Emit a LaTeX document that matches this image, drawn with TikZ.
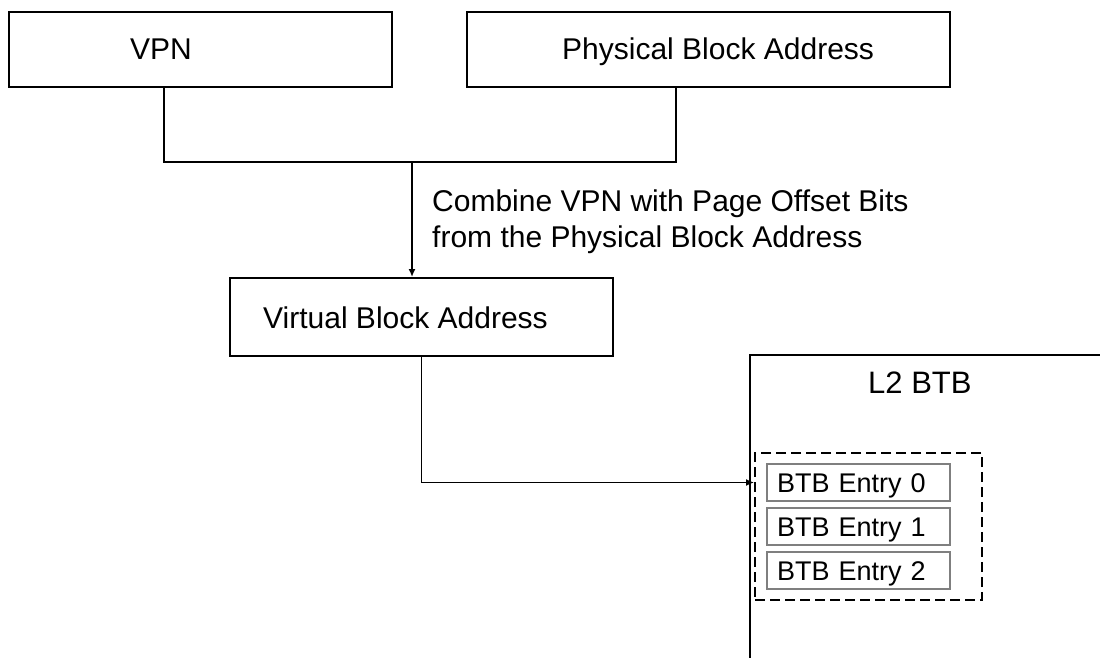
\documentclass[tikz,border=0pt]{standalone}
\usepackage{fontspec}
\setmainfont{Liberation Sans}
\usepackage{tikz}
\usetikzlibrary{arrows.meta}
\definecolor{entryc}{HTML}{7F7F7F}
\tikzset{
  blk/.style={draw=black, line width=2pt, inner sep=0pt},
  lbl/.style={font=\fontsize{30}{36}\selectfont, inner sep=0pt, anchor=base west},
  entry/.style={draw=entryc, line width=1.8pt, minimum width=183pt, minimum height=37pt,
    text width=163pt, align=left, inner xsep=10pt, inner ysep=0pt,
    text height=19pt, text depth=0pt, font=\fontsize{27}{30}\selectfont},
  grp/.style={draw=black, line width=1.8pt, dash pattern=on 10pt off 5pt},
  wire/.style={line width=1.8pt},
  flow/.style={wire, -{Latex[length=8pt,width=7pt]}},
}

\begin{document}
\begin{tikzpicture}[x=1pt,y=-1pt]
\useasboundingbox (0,0) rectangle (1100,658);
\clip (0,0) rectangle (1100,658);
% address boxes
\node[blk, minimum width=383pt, minimum height=75pt] (vpn) at (200.5,49.5) {};
\node[blk, minimum width=483pt, minimum height=75pt] (pba) at (708.5,49.5) {};
\node[blk, minimum width=383pt, minimum height=78pt] (vba) at (421.5,317) {};
\node[lbl] (vpntxt) at (130,60) {VPN};
\node[lbl] (pbatxt) at (562,60) {Physical Block Address};
\node[lbl] (vbatxt) at (263,328) {Virtual Block Address};
% combine step
\path (vpn.south west) ++(156,0) coordinate (vpnout);
\path (pba.south west) ++(210,0) coordinate (pbaout);
\coordinate (merge) at (412,162);
\draw[wire] (vpnout) |- (merge) -| (pbaout);
\draw[flow] (merge) -- (merge |- vba.north);
\node[lbl, anchor=north west, align=left] (combine) at (432,190)
  {Combine VPN with Page Offset Bits\\from the Physical Block Address};
% L2 BTB
\node[blk, minimum width=370pt, minimum height=320pt] (l2) at (935,515) {};
\node[lbl, font=\fontsize{31}{36}\selectfont] (l2txt) at (868,393) {L2 BTB};
\node[grp, minimum width=227pt, minimum height=147pt] (grp) at (868.5,526.5) {};
\foreach \i/\y in {0/482.5,1/526.5,2/570.5}
  \node[entry] (ent\i) at (858.5,\y) {BTB Entry \i};
\draw[flow] (vba.south) |- (grp.west |- ent0.west);
\end{tikzpicture}
\end{document}
